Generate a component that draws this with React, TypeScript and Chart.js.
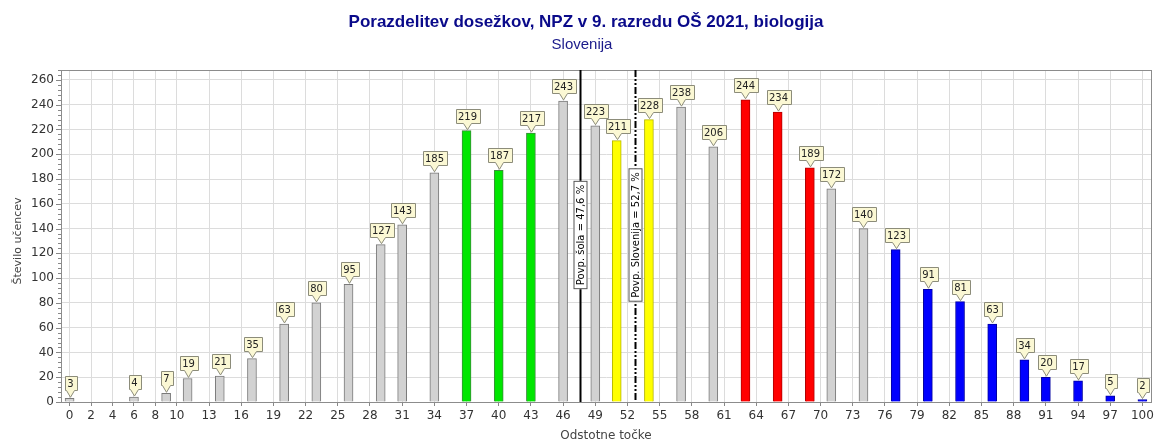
import React, { useEffect, useRef } from "react";
import { Chart, registerables } from "chart.js";

Chart.register(...registerables);

const scorePercents = [0, 6, 9, 11, 14, 17, 20, 23, 26, 29, 31, 34, 37, 40, 43, 46, 49, 51, 54, 57, 60, 63, 66, 69, 71, 74, 77, 80, 83, 86, 89, 91, 94, 97, 100];
const studentCounts = [3, 4, 7, 19, 21, 35, 63, 80, 95, 127, 143, 185, 219, 187, 217, 243, 223, 211, 228, 238, 206, 244, 234, 189, 172, 140, 123, 91, 81, 63, 34, 20, 17, 5, 2];
const barGroups = ["g", "g", "g", "g", "g", "g", "g", "g", "g", "g", "g", "g", "green", "green", "green", "g", "g", "yellow", "yellow", "g", "g", "red", "red", "red", "g", "g", "blue", "blue", "blue", "blue", "blue", "blue", "blue", "blue", "blue"];
const xTickValues = [0, 2, 4, 6, 8, 10, 13, 16, 19, 22, 25, 28, 31, 34, 37, 40, 43, 46, 49, 52, 55, 58, 61, 64, 67, 70, 73, 76, 79, 82, 85, 88, 91, 94, 97, 100];
const yTickValues = [0, 20, 40, 60, 80, 100, 120, 140, 160, 180, 200, 220, 240, 260];
const schoolMean = 47.6;
const nationalMean = 52.7;
const schoolLabel = "Povp. šola = 47,6 %";
const nationalLabel = "Povp. Slovenija = 52,7 %";
const titleText = "Porazdelitev dosežkov, NPZ v 9. razredu OŠ 2021, biologija";
const subtitleText = "Slovenija";
const xTitle = "Odstotne točke";
const yTitle = "Število učencev";

const fillColors: Record<string, string> = {
  g: "#d2d2d2",
  green: "#00e600",
  yellow: "#ffff00",
  red: "#ff0000",
  blue: "#0000ff",
};
const borderColors: Record<string, string> = {
  g: "#7a7a7a",
  green: "#3c8c3c",
  yellow: "#b5b500",
  red: "#b00000",
  blue: "#0000a0",
};

const FONT = "'DejaVu Sans', Verdana, sans-serif";
const ARIAL = "'Liberation Sans', Arial, sans-serif";

const overlayPlugin = {
  id: "overlay",
  beforeDatasetsDraw(chart: any) {
    const { ctx, chartArea } = chart;
    const yScale = chart.scales.y;
    ctx.save();
    ctx.strokeStyle = "#888";
    ctx.lineWidth = 1;
    for (let v = 0; v <= 268; v += 4) {
      const py = Math.round(yScale.getPixelForValue(v)) + 0.5;
      const len = v % 20 === 0 ? 5 : 3;
      ctx.beginPath();
      ctx.moveTo(chartArea.left - len, py);
      ctx.lineTo(chartArea.left, py);
      ctx.stroke();
    }
    ctx.restore();
  },
  afterDatasetsDraw(chart: any) {
    const { ctx, chartArea } = chart;
    const xScale = chart.scales.x;
    ctx.save();
    ctx.strokeStyle = "#8c8c8c";
    ctx.lineWidth = 1;
    ctx.strokeRect(Math.round(chartArea.left) + 0.5, Math.round(chartArea.top) + 0.5, Math.round(chartArea.right - chartArea.left), Math.round(chartArea.bottom - chartArea.top));
    ctx.restore();

    // titles
    ctx.save();
    ctx.textAlign = "center";
    ctx.textBaseline = "middle";
    ctx.fillStyle = "#0a0a8a";
    ctx.font = `bold 17px ${ARIAL}`;
    ctx.fillText(titleText, 586, 22);
    ctx.fillStyle = "#1a1a8a";
    ctx.font = `15px ${ARIAL}`;
    ctx.fillText(subtitleText, 582, 45);
    ctx.fillStyle = "#444";
    ctx.font = `12px ${FONT}`;
    ctx.fillText(xTitle, (chartArea.left + chartArea.right) / 2, 436);
    ctx.translate(18, 241);
    ctx.rotate(-Math.PI / 2);
    ctx.font = `11px ${FONT}`;
    ctx.fillText(yTitle, 0, 0);
    ctx.restore();

    const drawMean = (val: number, dashed: boolean, label: string) => {
      const px = Math.round(xScale.getPixelForValue(val)) + 0.5;
      ctx.save();
      ctx.strokeStyle = "#000";
      ctx.lineWidth = 2;
      if (dashed) ctx.setLineDash([7, 2, 2, 2, 2, 2]);
      ctx.beginPath();
      ctx.moveTo(px, chartArea.top);
      ctx.lineTo(px, chartArea.bottom);
      ctx.stroke();
      ctx.setLineDash([]);
      ctx.font = `10px ${FONT}`;
      const tw = ctx.measureText(label).width;
      const bw = tw + 8;
      const bh = 14;
      const cy = 235;
      ctx.translate(px, cy);
      ctx.rotate(-Math.PI / 2);
      ctx.fillStyle = "#ffffff";
      ctx.fillRect(-bw / 2, -bh / 2, bw, bh);
      ctx.strokeStyle = "#555";
      ctx.lineWidth = 1;
      ctx.strokeRect(-bw / 2 + 0.5, -bh / 2 + 0.5, bw - 1, bh - 1);
      ctx.fillStyle = "#000";
      ctx.textAlign = "center";
      ctx.textBaseline = "middle";
      ctx.fillText(label, 0, 1);
      ctx.restore();
    };
    drawMean(schoolMean, false, schoolLabel);
    drawMean(nationalMean, true, nationalLabel);

    const meta = chart.getDatasetMeta(0);
    ctx.save();
    ctx.font = `10px ${FONT}`;
    ctx.textAlign = "center";
    ctx.textBaseline = "middle";
    meta.data.forEach((bar: any, i: number) => {
      const txt = String(studentCounts[i]);
      const tw = ctx.measureText(txt).width;
      const bw = Math.max(Math.round(tw) + 5, 12);
      const bh = 14;
      const tipY = bar.y - 1;
      const boxBottom = Math.round(tipY - 7) + 0.5;
      const boxTop = boxBottom - bh;
      const cx = Math.round(bar.x) + 0.5;
      const left = Math.round(cx - bw / 2) + 0.5;
      ctx.beginPath();
      ctx.moveTo(left, boxTop);
      ctx.lineTo(left + bw, boxTop);
      ctx.lineTo(left + bw, boxBottom);
      ctx.lineTo(cx + 4, boxBottom);
      ctx.lineTo(cx, tipY);
      ctx.lineTo(cx - 4, boxBottom);
      ctx.lineTo(left, boxBottom);
      ctx.closePath();
      ctx.fillStyle = "#fbf8d4";
      ctx.fill();
      ctx.strokeStyle = "#8c8c7a";
      ctx.lineWidth = 1;
      ctx.stroke();
      ctx.fillStyle = "#222";
      ctx.fillText(txt, cx, boxTop + bh / 2 + 1);
    });
    ctx.restore();
  },
};

export default function App() {
  const ref = useRef<HTMLCanvasElement>(null);
  useEffect(() => {
    document.body.style.margin = "0";
    const canvas = ref.current!;
    const chart = new Chart(canvas, {
      type: "bar",
      data: {
        datasets: [
          {
            data: scorePercents.map((x, i) => ({ x, y: studentCounts[i] })),
            backgroundColor: barGroups.map((g) => fillColors[g]),
            borderColor: barGroups.map((g) => borderColors[g]),
            borderWidth: 1,
            barThickness: 9,
          },
        ],
      },
      options: {
        animation: false,
        responsive: false,
        maintainAspectRatio: false,
        layout: { padding: { left: 0, right: 6, top: 70, bottom: 0 } },
        plugins: {
          legend: { display: false },
          tooltip: { enabled: false },
          title: { display: false },
        },
        scales: {
          x: {
            type: "linear",
            offset: false,
            min: -0.8,
            max: 100.8,
            afterBuildTicks: (s: any) => {
              s.ticks = xTickValues.map((v) => ({ value: v }));
            },
            afterFit: (s: any) => {
              s.height = 39;
            },
            grid: { color: "#dcdcdc", offset: false, drawTicks: true, tickLength: 4, tickColor: "#888" },
            border: { display: true, color: "#8c8c8c" },
            ticks: { color: "#333", font: { family: FONT, size: 12 }, autoSkip: false, maxRotation: 0, padding: 3 },
          },
          y: {
            min: 0,
            max: 268,
            afterBuildTicks: (s: any) => {
              s.ticks = yTickValues.map((v) => ({ value: v }));
            },
            afterFit: (s: any) => {
              s.width = 61;
            },
            grid: { color: "#dcdcdc", drawTicks: false },
            border: { display: true, color: "#8c8c8c" },
            ticks: { color: "#333", font: { family: FONT, size: 12 }, padding: 7 },
          },
        },
      },
      plugins: [overlayPlugin],
    } as any);
    return () => chart.destroy();
  }, []);
  return (
    <div style={{ width: 1157, height: 441, background: "#fff" }}>
      <canvas ref={ref} width={1157} height={441} />
    </div>
  );
}
